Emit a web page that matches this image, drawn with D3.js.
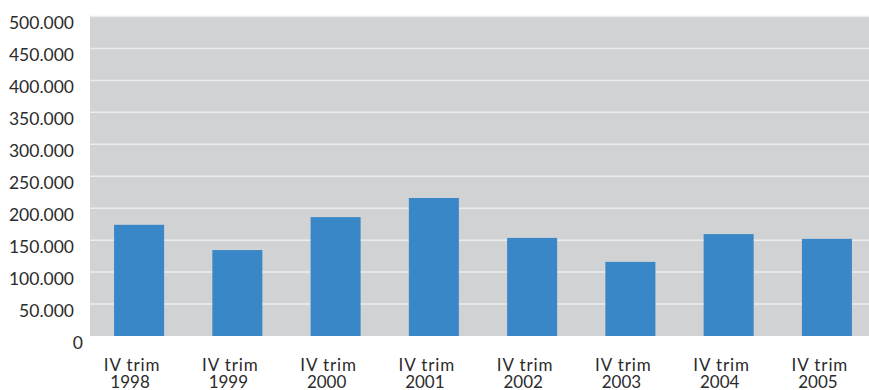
<!DOCTYPE html>
<html><head><meta charset="utf-8">
<script src="https://cdn.jsdelivr.net/npm/d3@7"></script>
<style>body{margin:0;background:#fff}svg{display:block}</style>
</head><body>
<svg id="chart" width="869" height="390"></svg>
<script>
const categories = ["IV trim 1998","IV trim 1999","IV trim 2000","IV trim 2001","IV trim 2002","IV trim 2003","IV trim 2004","IV trim 2005"];
const values = [174000, 134500, 186000, 216000, 153500, 116000, 159500, 152000];
const yTicks = [0, 50000, 100000, 150000, 200000, 250000, 300000, 350000, 400000, 450000, 500000];

const svg = d3.select("#chart");
const m = {left: 90, right: 0, top: 16.5, bottom: 54};
const W = 869, H = 390;
const x = d3.scaleBand().domain(categories).range([90, 876]).paddingInner(0.491).paddingOuter(0.245);
const y = d3.scaleLinear().domain([0, 500000]).range([H - m.bottom, m.top]);
const fmt = v => v === 0 ? "0" : d3.format(",")(v).replace(/,/g, ".");

svg.append("rect").attr("x", m.left).attr("y", m.top).attr("width", W - m.right - m.left).attr("height", y(0) - m.top).attr("fill", "#d1d2d4");

svg.append("g").selectAll("line").data(yTicks.slice(1)).join("line")
  .attr("x1", m.left).attr("x2", W - m.right)
  .attr("y1", d => y(d)).attr("y2", d => y(d))
  .attr("stroke", "#ececec").attr("stroke-width", 1.5);

svg.append("g").selectAll("rect").data(values).join("rect")
  .attr("x", (d, i) => x(categories[i])).attr("width", x.bandwidth())
  .attr("y", d => y(d)).attr("height", d => y(0) - y(d))
  .attr("fill", "#3a87c8");

const yAxis = d3.axisLeft(y).tickValues(yTicks).tickFormat(fmt).tickSize(0).tickPadding(0);
const gy = svg.append("g").attr("transform", `translate(${74},0)`).call(yAxis);
gy.select(".domain").remove();
gy.selectAll("text").attr("dy", "0.7em").attr("font-family", "Lato, sans-serif").attr("font-size", 17.5).attr("fill", "#2b2b2b")
  .attr("x", d => d === 0 ? 9 : 0);

const xAxis = d3.axisBottom(x).tickSize(0).tickFormat(() => "");
const gx = svg.append("g").attr("transform", `translate(-7,${y(0)})`).call(xAxis);
gx.select(".domain").remove();
gx.selectAll(".tick").each(function(d) {
  const parts = d.split(" ");
  const t = d3.select(this).append("text").attr("text-anchor", "middle")
    .attr("font-family", "Lato, sans-serif").attr("font-size", 17).attr("fill", "#2b2b2b");
  t.append("tspan").attr("x", 0).attr("y", 35).attr("letter-spacing", 0.9).text(parts[0] + " " + parts[1]);
  t.append("tspan").attr("x", -2).attr("y", 52).text(parts[2]);
});
</script>
</body></html>
